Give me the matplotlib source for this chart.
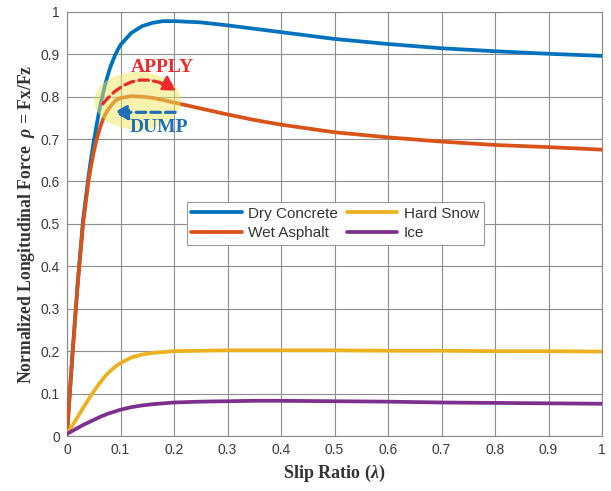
import matplotlib
matplotlib.use("Agg")
import matplotlib.pyplot as plt
from matplotlib.patches import Ellipse, FancyArrowPatch

# ---- data ----
slip = [0, 0.01, 0.02, 0.03, 0.04, 0.045, 0.05, 0.055, 0.06, 0.065, 0.07, 0.075,
        0.08, 0.085, 0.09, 0.095, 0.10,
        0.12, 0.14, 0.16, 0.18, 0.20, 0.25, 0.30, 0.35, 0.40, 0.50,
        0.60, 0.70, 0.80, 0.90, 1.00]
dry_concrete = [0.005, 0.19, 0.36, 0.51, 0.61, 0.655, 0.695, 0.731, 0.765, 0.795, 0.822, 0.845,
                0.866, 0.883, 0.898, 0.911, 0.922,
                0.950, 0.966, 0.974, 0.978, 0.978, 0.975, 0.968, 0.960, 0.952, 0.936,
                0.924, 0.914, 0.907, 0.901, 0.896]
wet_asphalt = [0.005, 0.19, 0.36, 0.50, 0.60, 0.637, 0.67, 0.697, 0.72, 0.739, 0.755, 0.766,
               0.775, 0.783, 0.79, 0.794, 0.797,
               0.801, 0.800, 0.797, 0.792, 0.786, 0.772, 0.758, 0.745, 0.734, 0.716,
               0.704, 0.694, 0.686, 0.681, 0.675]
hard_snow = [0.005, 0.025, 0.045, 0.066, 0.086, 0.096, 0.105, 0.114, 0.123, 0.131, 0.139, 0.146,
             0.152, 0.158, 0.163, 0.168, 0.172,
             0.185, 0.192, 0.196, 0.198, 0.200, 0.201, 0.202, 0.202, 0.202, 0.202,
             0.201, 0.201, 0.200, 0.200, 0.199]
ice = [0.005, 0.012, 0.019, 0.026, 0.032, 0.035, 0.038, 0.041, 0.044, 0.047, 0.049, 0.052,
       0.054, 0.056, 0.058, 0.060, 0.062,
       0.068, 0.072, 0.075, 0.077, 0.079, 0.081, 0.082, 0.083, 0.083, 0.082,
       0.081, 0.079, 0.078, 0.077, 0.076]

series_names = ["Dry Concrete", "Wet Asphalt", "Hard Snow", "Ice"]
series_colors = ["#0072BD", "#D95319", "#EDB120", "#7E2F8E"]
ticks = [0, 0.1, 0.2, 0.3, 0.4, 0.5, 0.6, 0.7, 0.8, 0.9, 1]
tick_labels = ["0", "0.1", "0.2", "0.3", "0.4", "0.5", "0.6", "0.7", "0.8", "0.9", "1"]

plt.rcParams['mathtext.fontset'] = 'custom'
plt.rcParams['mathtext.it'] = 'Liberation Serif:bold:italic'
plt.rcParams['mathtext.rm'] = 'Liberation Serif:bold'

fig = plt.figure(figsize=(6.11, 4.91), dpi=100)
ax = fig.add_axes([0.1097, 0.112, 0.8756, 0.864])

lines = []
for ys, name, col in zip([dry_concrete, wet_asphalt, hard_snow, ice], series_names, series_colors):
    ln, = ax.plot(slip, ys, color=col, lw=2.7, label=name, solid_capstyle='round',
                  solid_joinstyle='round', zorder=3)
    lines.append(ln)

ax.set_xlim(0, 1)
ax.set_ylim(0, 1)
ax.set_xticks(ticks)
ax.set_xticklabels(tick_labels)
ax.set_yticks(ticks)
ax.set_yticklabels(tick_labels)
ax.grid(True, color="#8e8e8e", lw=0.8)
ax.set_axisbelow(True)
for s in ax.spines.values():
    s.set_color("#8a8a8a")
    s.set_linewidth(0.8)
ax.tick_params(direction='in', length=0, labelsize=10, colors="#3a3a3a", pad=5)
for lab in ax.get_xticklabels() + ax.get_yticklabels():
    lab.set_family("Liberation Sans")

ax.set_xlabel(r"Slip Ratio ($\lambda$)", family="Liberation Serif", fontweight="bold",
              fontsize=13, color="#333333", labelpad=4)
ax.set_ylabel(r"Normalized Longitudinal Force  $\rho$ = Fx/Fz", family="Liberation Serif",
              fontweight="bold", fontsize=12.7, color="#333333", labelpad=3)

# legend (order as in reference, 2 columns)
leg = ax.legend(handles=lines, ncol=2, loc="upper left", bbox_to_anchor=(0.224, 0.551),
                frameon=True, fancybox=False, edgecolor="#9a9a9a", framealpha=1,
                prop={"family": "Liberation Sans", "size": 11}, handlelength=3.3,
                columnspacing=0.6, handletextpad=0.4, labelspacing=0.35,
                borderpad=0.3, borderaxespad=0)
leg.get_frame().set_linewidth(0.8)
for t in leg.get_texts():
    t.set_color("#333333")

# annotation ellipse and arrows
ell = Ellipse((0.132, 0.79), 0.162, 0.136, facecolor="#f0e860", alpha=0.5,
              edgecolor="none", zorder=4)
ax.add_patch(ell)

red_arrow = FancyArrowPatch((0.067, 0.783), (0.204, 0.814),
                            connectionstyle="arc3,rad=-0.44",
                            arrowstyle="-|>,head_length=8,head_width=4.5",
                            shrinkA=0, shrinkB=0,
                            color="#ee2a2a", lw=2.3, linestyle=(0, (3, 1.6)), zorder=5)
ax.add_patch(red_arrow)
blue_arrow = FancyArrowPatch((0.202, 0.763), (0.088, 0.763),
                             arrowstyle="-|>,head_length=8,head_width=4.5",
                             shrinkA=0, shrinkB=0,
                             color="#1f6fb8", lw=2.3, linestyle=(0, (3, 1.6)), zorder=5)
ax.add_patch(blue_arrow)

ax.text(0.179, 0.869, "APPLY", color="#ee2a2a", family="Liberation Serif",
        fontweight="bold", fontsize=14, ha="center", va="center", zorder=6)
ax.text(0.171, 0.728, "DUMP", color="#1f6fb8", family="Liberation Serif",
        fontweight="bold", fontsize=14, ha="center", va="center", zorder=6)

fig.savefig("out.png", dpi=100)
